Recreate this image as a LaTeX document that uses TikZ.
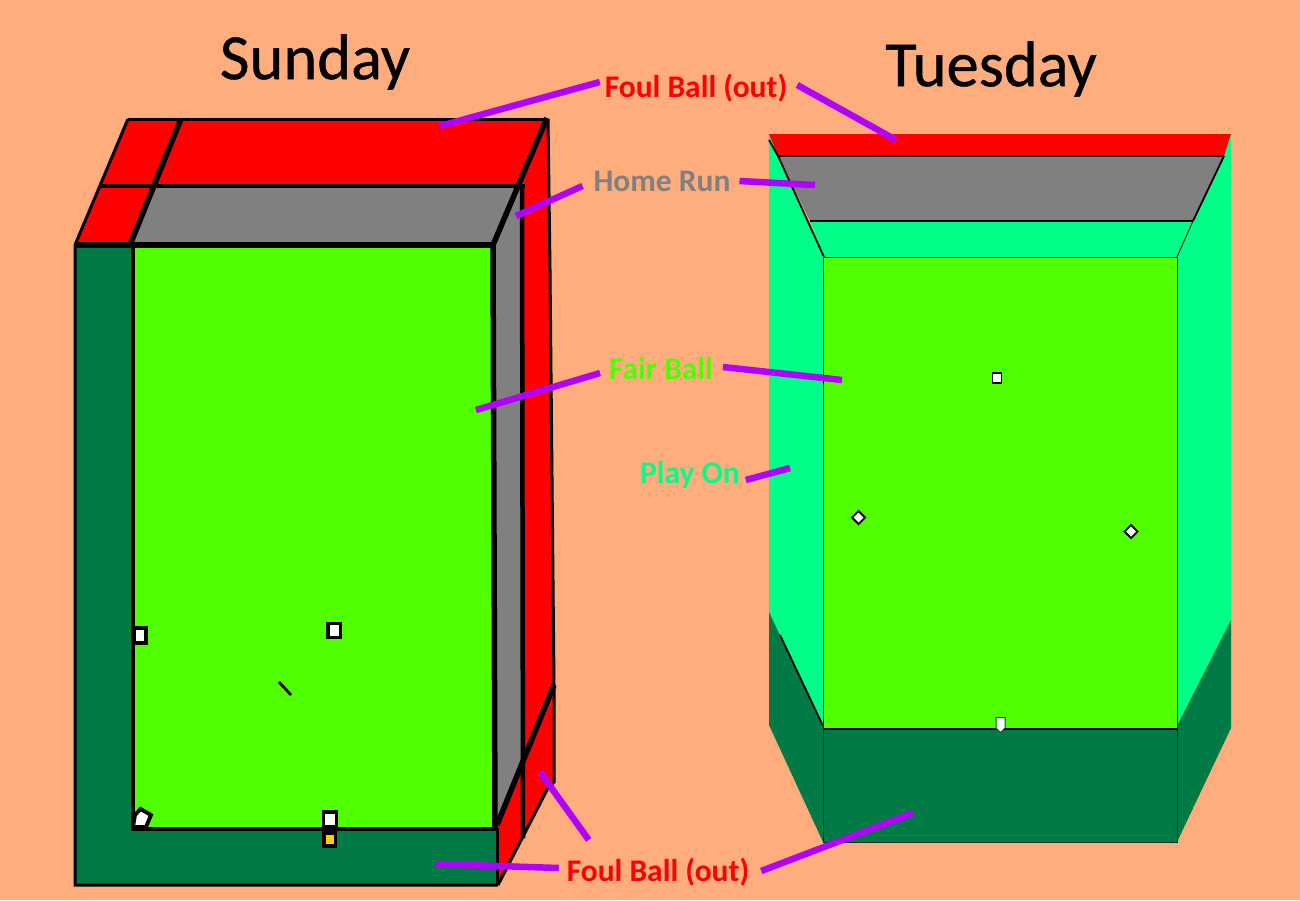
\documentclass[tikz,border=0pt]{standalone}
\usepackage{fontspec}
\setmainfont{Carlito}
\newfontfamily\titlefont[FakeBold=0.6]{Carlito}
\definecolor{bgc}{RGB}{255,173,125}
\definecolor{fairc}{RGB}{80,255,0}
\definecolor{playc}{RGB}{0,255,136}
\definecolor{darkc}{RGB}{0,122,69}
\definecolor{purp}{RGB}{178,0,255}
\definecolor{greyc}{RGB}{128,128,128}
\definecolor{baseY}{RGB}{255,204,0}
\tikzset{
  title/.style={font=\titlefont\fontsize{64.5}{68}\selectfont,text=black,inner sep=0pt},
  lab/.style={font=\bfseries\fontsize{31.5}{34}\selectfont,inner sep=0pt,outer sep=5pt},
  callout/.style={draw=purp,line width=6.5pt},
  heavy/.style={draw=black,line width=5.5pt},
  edge/.style={draw=black,line width=3pt,line join=miter},
  fine/.style={draw=black,line width=1.8pt},
  basemark/.style={draw=black,fill=white,line width=3.8pt},
  basesmall/.style={draw=black,fill=white,line width=1.8pt},
}
\begin{document}
\begin{tikzpicture}[x=1pt,y=-1pt]
\useasboundingbox (0,0) rectangle (1300,900);
\fill[bgc] (0,0) rectangle (1300,900);

% ---- Sunday ----
\fill[red] (128,119)--(547,119)--(493,245)--(75,245)--cycle;
\fill[greyc] (157,186)--(522,186)--(493,245)--(131,245)--cycle;
\fill[red] (522,125)--(548,119)--(554,685)--(554,782)--(548,788)--(498,885)--(497,828)--(522,770)--cycle;
\fill[greyc] (493,245)--(521,186)--(521,766)--(496,822)--cycle;
\fill[darkc] (75,245)--(132,245)--(132,828)--(496,828)--(496,885)--(75,885)--cycle;
\fill[fairc] (132,245)--(493,245)--(495,828)--(132,828)--cycle;
\draw[edge] (128,119)--(547,119);
\draw[edge] (128,119)--(75,245)--(75,885)--(498,885);
\draw[heavy] (181,119)--(130,245);
\draw[line width=4.5pt,draw=black] (100,186)--(525,186);
\draw[heavy] (547,118)--(493,245);
\draw[heavy] (75,245)--(493,245);
\draw[line width=4.5pt,draw=black] (133,245)--(133,829);
\draw[heavy] (493,245)--(495,828);
\draw[line width=4.5pt,draw=black] (131,829)--(497,829);
\draw[line width=4.5pt,draw=black] (522,186)--(523,838);
\draw[edge] (548,119)--(550,270)--(554,685)--(554,782)--(548,788)--(498,885);
\draw[heavy] (554,685)--(497,825);
\draw[edge] (497,828)--(497,885);
\draw[basemark] (134,628) rectangle (146,643);
\draw[basemark] (327.8,623.5) rectangle (340.5,637.5);
\draw[basemark] (323.5,812) rectangle (336.5,826.5);
\draw[draw=black,fill=baseY,line width=3.4pt] (324,833) rectangle (335.5,846);
\draw[basemark] (133,827)--(135,815)--(140.5,809)--(151,815)--(146,827)--cycle;
\draw[line width=2.8pt] (279,682)--(291,695);

% ---- Tuesday ----
\fill[playc] (769,134)--(824,257)--(823,728)--(769,612)--cycle;
\fill[playc] (1231,134)--(1177,257)--(1177,728)--(1231,620)--cycle;
\fill[darkc] (769,612)--(823,726)--(823,842)--(769,725)--cycle;
\fill[darkc] (1231,620)--(1177,726)--(1177,842)--(1231,728)--cycle;
\fill[red] (769,134)--(1231,134)--(1224,156)--(778,156)--cycle;
\fill[greyc] (778,156)--(1224,156)--(1193,221)--(810,221)--cycle;
\fill[playc] (810,221)--(1193,221)--(1177,257)--(824,257)--cycle;
\fill[fairc] (823,257)--(1177,257)--(1177,728)--(823,728)--cycle;
\fill[darkc] (823,729)--(1177,729)--(1177,842)--(823,842)--cycle;
\draw[fine] (778,156)--(1224,156);
\draw[fine] (810,221)--(1193,221);
\draw[fine] (769,140)--(778,156)--(824,257);
\draw[fine] (1224,156)--(1193,221);
\draw[line width=.8pt] (1193,221)--(1177,257);
\draw[line width=1pt] (824,257)--(1177,257);
\draw[line width=1pt] (823,257)--(823,728);
\draw[line width=1pt] (1177,257)--(1177,729);
\draw[fine] (823,729)--(1177,729);
\draw[fine] (780,635)--(823,726);
\draw[line width=.6pt,draw=black!60!darkc] (823,729)--(823,842)--(1177,842)--(1177,729);
\draw[basesmall] (992.5,373) rectangle (1001.5,383);
\draw[basesmall] (858.5,511)--(865,517.5)--(858.5,524)--(852,517.5)--cycle;
\draw[basesmall] (1131,525)--(1137.5,531.5)--(1131,538)--(1124.5,531.5)--cycle;
\draw[draw=darkc!70!black,fill=white,line width=1pt] (996,717.5)--(1005,717.5)--(1005,728)--(1000.5,732.5)--(996,728)--cycle;

% ---- Titles ----
\node[title] (sun) at (315,62) {Sunday};
\node[title] (tue) at (991,69) {Tuesday};

% ---- Labels ----
\node[lab,text=red] (foulA) at (696,88) {Foul Ball (out)};
\node[lab,text=greyc] (home) at (662,181) {Home Run};
\node[lab,text=fairc] (fair) at (661,369) {Fair Ball};
\node[lab,text=playc] (play) at (690,475) {Play On};
\node[lab,text=red] (foulB) at (658,872) {Foul Ball (out)};

% ---- Callout ends ----
\coordinate (a1) at (440,126);
\coordinate (a2) at (896,140);
\coordinate (h1) at (516,216);
\coordinate (h2) at (815,185);
\coordinate (f1) at (476,410);
\coordinate (f2) at (842,380);
\coordinate (p1) at (790,468);
\coordinate (b1) at (436,864);
\coordinate (b2) at (540,772);
\coordinate (b3) at (913,813);

\draw[callout] ([yshift=6pt]foulA.west)--(a1);
\draw[callout] ([xshift=5pt,yshift=3pt]foulA.east)--(a2);
\draw[callout] ([xshift=-6pt,yshift=-5pt]home.west)--(h1);
\draw[callout] ([xshift=4pt]home.east)--(h2);
\draw[callout] ([xshift=-4pt,yshift=-4pt]fair.west)--(f1);
\draw[callout] ([xshift=5pt,yshift=2pt]fair.east)--(f2);
\draw[callout] ([xshift=1pt,yshift=-5pt]play.east)--(p1);
\draw[callout] ([xshift=-3pt,yshift=4pt]foulB.west)--(b1);
\draw[callout] ([xshift=27pt,yshift=13pt]foulB.north west)--(b2);
\draw[callout] ([xshift=7pt,yshift=1pt]foulB.east)--(b3);
\end{tikzpicture}
\end{document}
